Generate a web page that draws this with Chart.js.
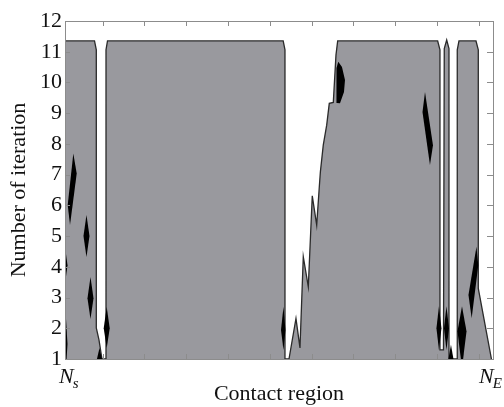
<!DOCTYPE html>
<html>
<head>
<meta charset="utf-8">
<script src="https://cdn.jsdelivr.net/npm/chart.js@4.4.0/dist/chart.umd.min.js"></script>
<style>
  html, body { margin: 0; padding: 0; background: #fff; }
  #wrap { width: 504px; height: 407px; }
</style>
</head>
<body>
<div id="wrap"><canvas id="myChart"></canvas></div>
<script>
// upper edge of the contact zone (node index along the region -> iteration)
const regionX = [1, 8.06, 8.49, 8.49, 9.13, 9.85, 10.81, 10.81, 11.17, 53.2, 53.63, 53.63,
  54.59, 56.26, 57.22, 58.01, 59.21, 60.16, 61.22, 61.84, 62.1, 62.79, 63.61, 64.23, 65.19,
  65.83, 66.24, 90.16, 90.71, 90.71, 91.55, 91.74, 92.32, 92.87, 92.87, 94.85, 94.85, 95.26,
  99.33, 99.88, 99.88, 103.03];
const regionIter = [11.35, 11.35, 11.06, 2.01, 1.62, 1.0, 1.0, 11.06, 11.35, 11.35, 11.06, 1.0,
  1.0, 2.32, 1.36, 4.33, 3.35, 6.31, 5.36, 6.6, 7.09, 7.96, 8.61, 9.32, 9.35,
  10.89, 11.35, 11.35, 11.06, 1.3, 1.3, 11.1, 11.38, 11.1, 1.0, 1.0, 11.06, 11.35,
  11.35, 11.06, 3.3, 1.0];

// black patches (one polygon each)
const patchX = [
  [2.99, 3.80, 2.20, 1.65],
  [6.14, 6.86, 6.14, 5.42],
  [7.10, 7.82, 7.10, 6.38],
  [10.98, 11.70, 10.98, 10.26],
  [1.05, 1.6, 1.05, 0.5],
  [1.15, 1.6, 1.15, 0.7],
  [9.25, 9.85, 9.25, 8.65],
  [53.27, 53.75, 53.27, 52.68],
  [65.95, 66.38, 67.27, 67.99, 67.75, 66.79, 66.07, 65.95],
  [87.13, 89.04, 88.32, 86.53],
  [90.47, 91.07, 90.47, 89.87],
  [92.27, 92.87, 92.27, 91.67],
  [93.34, 93.94, 93.34, 92.74],
  [95.98, 97.06, 95.98, 94.9],
  [99.44, 99.88, 98.30, 97.53]
];
const patchIter = [
  [7.69, 7.04, 5.36, 6.01],
  [5.69, 5.0, 4.32, 5.0],
  [3.67, 2.98, 2.30, 2.98],
  [2.69, 2.0, 1.36, 2.0],
  [4.6, 4.05, 3.5, 4.05],
  [2.5, 1.5, 0.5, 1.5],
  [1.36, 1.0, 0.6, 1.0],
  [2.70, 1.94, 1.29, 1.94],
  [10.47, 10.67, 10.50, 10.08, 9.69, 9.32, 9.33, 9.43],
  [9.69, 7.96, 7.31, 9.04],
  [2.72, 2.0, 1.29, 2.0],
  [2.72, 2.0, 1.29, 2.0],
  [1.46, 1.0, 0.5, 1.0],
  [2.72, 1.9, 0.7, 1.9],
  [4.65, 4.06, 2.33, 3.08]
];

const iterMin = 1, iterMax = 12;
const nodeMin = 1, nodeMax = 103.4;
const nodeTicks = [10, 20, 30, 40, 50, 60, 70, 80, 90, 100];
const endLabels = [['N', 's'], ['N', 'E']];

const serif = "'Liberation Serif', 'DejaVu Serif', serif";

const datasets = patchX.map((xs, i) => ({
  data: xs.map((x, j) => ({ x: x, y: patchIter[i][j] })),
  backgroundColor: '#000',
  borderColor: '#000',
  borderWidth: 0,
  fill: 'shape',
  pointRadius: 0,
  clip: 0,
  order: 1
}));
datasets.push({
  data: regionX.map((x, i) => ({ x: x, y: regionIter[i] })),
  backgroundColor: '#99999e',
  borderColor: '#2a2a2a',
  borderWidth: 1.3,
  fill: 'start',
  pointRadius: 0,
  tension: 0,
  clip: 0,
  order: 2
});

// box with inward ticks + N_s / N_E end labels
const frame = {
  id: 'frame',
  afterDatasetsDraw(chart) {
    const { ctx, chartArea: a, scales: { x, y } } = chart;
    ctx.save();
    ctx.strokeStyle = '#8c8c8c';
    ctx.lineWidth = 1;
    ctx.strokeRect(a.left + 0.5, a.top + 0.5, a.right - a.left, a.bottom - a.top);
    ctx.beginPath();
    nodeTicks.forEach(v => {
      const px = Math.round(x.getPixelForValue(v)) + 0.5;
      ctx.moveTo(px, a.top); ctx.lineTo(px, a.top + 5);
      ctx.moveTo(px, a.bottom); ctx.lineTo(px, a.bottom - 5);
    });
    for (let v = iterMin; v <= iterMax; v++) {
      const py = Math.round(y.getPixelForValue(v)) + 0.5;
      ctx.moveTo(a.left, py); ctx.lineTo(a.left + 5, py);
      ctx.moveTo(a.right, py); ctx.lineTo(a.right - 6, py);
    }
    ctx.stroke();

    ctx.fillStyle = '#111';
    ctx.textBaseline = 'alphabetic';
    const base = a.bottom + 24;
    [[x.getPixelForValue(nodeMin) - 6, endLabels[0]], [x.getPixelForValue(nodeMax) - 14, endLabels[1]]]
      .forEach(([px, lab]) => {
        ctx.font = 'italic 22px ' + serif;
        ctx.fillText(lab[0], px, base);
        const w = ctx.measureText(lab[0]).width;
        ctx.font = 'italic 15px ' + serif;
        ctx.fillText(lab[1], px + w - 1, base + 5);
      });
    ctx.restore();
  }
};

new Chart(document.getElementById('myChart'), {
  type: 'line',
  data: { datasets: datasets },
  options: {
    responsive: true,
    maintainAspectRatio: false,
    animation: false,
    layout: { padding: { top: 21, right: 11, left: 0, bottom: 0 } },
    plugins: { legend: { display: false }, tooltip: { enabled: false } },
    scales: {
      x: {
        type: 'linear',
        min: nodeMin,
        max: nodeMax,
        grid: { display: false, drawTicks: false },
        border: { display: false },
        ticks: { display: false },
        title: {
          display: true,
          text: 'Contact region',
          color: '#111',
          font: { family: serif, size: 22 },
          padding: { top: 0, bottom: 0 }
        },
        afterFit: s => { s.height = 48; }
      },
      y: {
        min: iterMin,
        max: iterMax,
        grid: { display: false, drawTicks: false, tickLength: 0 },
        border: { display: false },
        ticks: {
          stepSize: 1,
          padding: 3,
          color: '#111',
          font: { family: serif, size: 22 }
        },
        title: {
          display: true,
          text: 'Number of iteration',
          color: '#111',
          font: { family: serif, size: 22 },
          padding: { top: 6, bottom: 0 }
        },
        afterFit: s => { s.width = 65; }
      }
    }
  },
  plugins: [frame]
});
</script>
</body>
</html>
